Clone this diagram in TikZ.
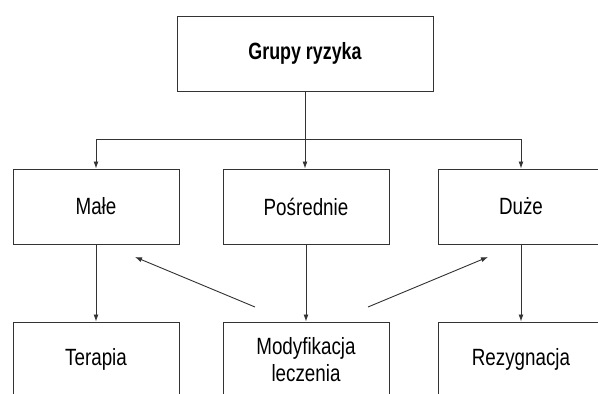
\documentclass[tikz,border=0pt]{standalone}
\usepackage{fontspec}
\setmainfont{Liberation Sans}[FakeStretch=0.8, BoldFeatures={FakeStretch=0.76}]
\usetikzlibrary{arrows.meta}
\begin{document}
\begin{tikzpicture}[x=1pt,y=-1pt,
  box/.style={draw=black!80, line width=1pt, minimum width=166pt, minimum height=75pt,
    inner sep=0pt, align=center, font=\fontsize{23.5}{27}\selectfont},
  conn/.style={draw=black!80, line width=0.9pt},
  arr/.style={conn, -{Latex[length=7pt,width=5pt]}}]
\useasboundingbox (0,0) rectangle (598,394);
\clip (0,0) rectangle (598,394);
\node[box, minimum width=256pt, font=\fontsize{23.5}{27}\selectfont\bfseries] (top) at (305,53.5) {Grupy ryzyka};
\node[box] (male) at (96,206.5) {Małe};
\node[box] (pos) at (306,206.5) {Pośrednie};
\node[box] (duze) at (521,206.5) {Duże};
\node[box] (ter) at (96,359.5) {Terapia};
\node[box] (mod) at (306,359.5) {Modyfikacja\\leczenia};
\node[box] (rez) at (521,359.5) {Rezygnacja};
\coordinate (bar) at (0,139);
\coordinate (ls) at (255,307);
\coordinate (le) at (135,257);
\coordinate (rs) at (368,307);
\coordinate (re) at (488,257);
\draw[arr] (top.south) -- (top.south |- pos.north);
\draw[conn] (male.north |- bar) -- (duze.north |- bar);
\draw[arr] (male.north |- bar) -- (male.north);
\draw[arr] (duze.north |- bar) -- (duze.north);
\draw[arr] (male.south) -- (ter.north);
\draw[arr] (pos.south) -- (mod.north);
\draw[arr] (duze.south) -- (rez.north);
\draw[arr] (ls) -- (le);
\draw[arr] (rs) -- (re);
\end{tikzpicture}
\end{document}
